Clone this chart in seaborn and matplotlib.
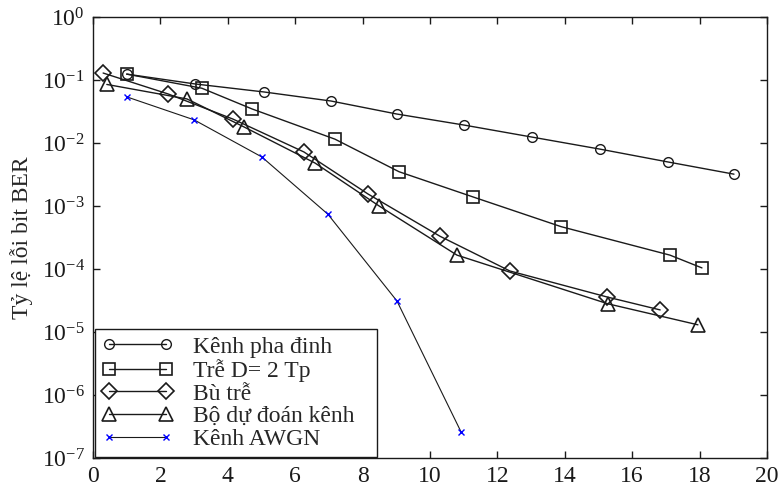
import matplotlib
matplotlib.use("Agg")
import matplotlib.pyplot as plt
import seaborn as sns
import numpy as np

# BER curves
fading_x = [1.0, 3.03, 5.07, 7.06, 9.02, 11.0, 13.03, 15.04, 17.06, 19.02]
fading_y = [0.124, 0.0865, 0.0646, 0.0464, 0.0288, 0.0193, 0.0124, 0.0080, 0.0050, 0.0032]

delay_x = [1.0, 3.23, 4.72, 7.18, 9.08, 11.28, 13.89, 17.12, 18.07]
delay_y = [0.124, 0.074, 0.0347, 0.0115, 0.0035, 0.00139, 4.7e-4, 1.66e-4, 1.04e-4]

comp_x = [0.30, 2.23, 4.15, 6.26, 8.16, 10.3, 12.37, 15.25, 16.83]
comp_y = [0.129, 0.060, 0.024, 0.0072, 0.00155, 3.3e-4, 9.3e-5, 3.6e-5, 2.24e-5]

pred_x = [0.41, 2.79, 4.48, 6.59, 8.49, 10.8, 15.28, 17.95]
pred_y = [0.085, 0.050, 0.018, 0.0048, 0.0010, 1.66e-4, 2.8e-5, 1.3e-5]

awgn_x = [1.0, 3.0, 5.01, 6.97, 9.02, 10.92]
awgn_y = [0.054, 0.0233, 0.0060, 7.4e-4, 3.1e-5, 2.6e-7]

labels = ["Kênh pha đinh", "Trễ D= 2 Tp", "Bù trễ", "Bộ dự đoán kênh", "Kênh AWGN"]

sns.set_theme(style="ticks")
plt.rcParams["font.family"] = ["Liberation Serif", "DejaVu Serif"]
plt.rcParams["mathtext.fontset"] = "stix"
plt.rcParams["font.size"] = 17

fig = plt.figure(figsize=(7.79, 4.97), dpi=100)
ax = fig.add_axes([0.1194, 0.0785, 0.8652, 0.8873])

common = dict(color="k", linewidth=1.0, ax=ax)
sns.lineplot(x=fading_x, y=fading_y, marker="o", markersize=7, mfc="none",
             mec="k", mew=1.0, label=labels[0], **common)
sns.lineplot(x=delay_x, y=delay_y, marker="s", markersize=9, mfc="none",
             mec="k", mew=1.2, label=labels[1], **common)
sns.lineplot(x=comp_x, y=comp_y, marker="D", markersize=8, mfc="none",
             mec="k", mew=1.2, label=labels[2], **common)
sns.lineplot(x=pred_x, y=pred_y, marker="^", markersize=10, mfc="none",
             mec="k", mew=1.2, label=labels[3], **common)
sns.lineplot(x=awgn_x, y=awgn_y, marker="x", markersize=4, mec="#0000ff",
             mew=1.0, label=labels[4], color="k", linewidth=0.8, ax=ax)

ax.set_yscale("log")
ax.set_xlim(0, 20)
ax.set_ylim(1e-7, 1)
ax.set_xticks(np.arange(0, 21, 2))
ax.set_yticks([10.0 ** k for k in range(-7, 1)])
ax.yaxis.set_minor_locator(matplotlib.ticker.NullLocator())
ax.tick_params(direction="in", top=True, right=True, length=5, width=1.0,
               labelsize=17, colors="k", pad=6)
for s in ax.spines.values():
    s.set_color("k")
    s.set_linewidth(1.0)
ax.set_xlabel("")
ax.set_ylabel("Tỷ lệ lỗi bit BER", fontsize=17, labelpad=6)

# legend box spans roughly the left 42% of the axes, sitting on the bottom
leg = ax.legend(loc="lower left", bbox_to_anchor=(0.003, 0.002, 0.418, 0.3),
                mode="expand", numpoints=2, fontsize=17, frameon=True,
                fancybox=False, edgecolor="k", framealpha=1, borderaxespad=0.0,
                labelspacing=0.05, handlelength=3.0, handletextpad=0.85,
                borderpad=0.3)
leg.get_frame().set_linewidth(1.0)

fig.savefig("out.png", dpi=100)
